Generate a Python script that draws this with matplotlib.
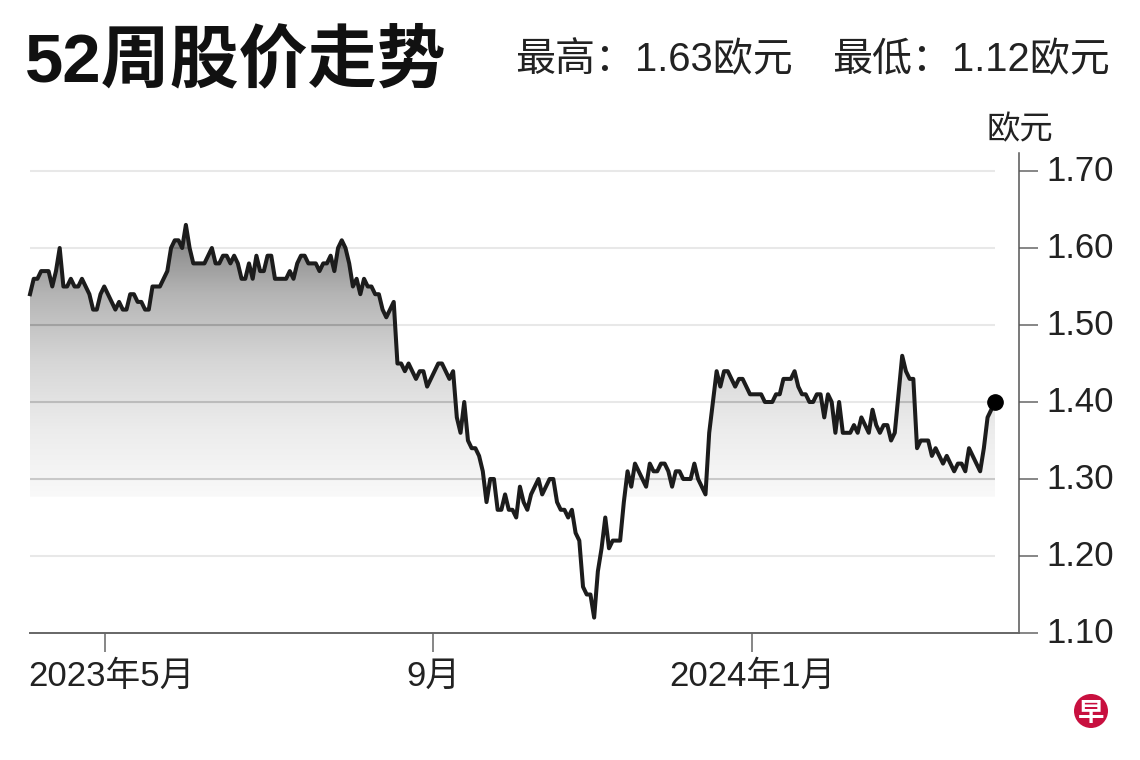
import matplotlib
matplotlib.use("Agg")
import matplotlib.pyplot as plt
import numpy as np
from matplotlib.colors import LinearSegmentedColormap
from matplotlib.patches import Circle
from matplotlib.transforms import ScaledTranslation

plt.rcParams['font.family'] = ['Liberation Sans', 'Noto Sans CJK SC', 'DejaVu Sans']

# precio de cierre por sesion
precios = [
    1.54, 1.56, 1.56, 1.57, 1.57, 1.57, 1.55, 1.57, 1.60, 1.55,
    1.55, 1.56, 1.55, 1.55, 1.56, 1.55, 1.54, 1.52, 1.52, 1.54,
    1.55, 1.54, 1.53, 1.52, 1.53, 1.52, 1.52, 1.54, 1.54, 1.53,
    1.53, 1.52, 1.52, 1.55, 1.55, 1.55, 1.56, 1.57, 1.60, 1.61,
    1.61, 1.60, 1.63, 1.60, 1.58, 1.58, 1.58, 1.58, 1.59, 1.60,
    1.58, 1.58, 1.59, 1.59, 1.58, 1.59, 1.58, 1.56, 1.56, 1.58,
    1.56, 1.59, 1.57, 1.57, 1.59, 1.59, 1.56, 1.56, 1.56, 1.56,
    1.57, 1.56, 1.58, 1.59, 1.59, 1.58, 1.58, 1.58, 1.57, 1.58,
    1.58, 1.59, 1.57, 1.60, 1.61, 1.60, 1.58, 1.55, 1.56, 1.54,
    1.56, 1.55, 1.55, 1.54, 1.54, 1.52, 1.51, 1.52, 1.53, 1.45,
    1.45, 1.44, 1.45, 1.44, 1.43, 1.44, 1.44, 1.42, 1.43, 1.44,
    1.45, 1.45, 1.44, 1.43, 1.44, 1.38, 1.36, 1.40, 1.35, 1.34,
    1.34, 1.33, 1.31, 1.27, 1.30, 1.30, 1.26, 1.26, 1.28, 1.26,
    1.26, 1.25, 1.29, 1.27, 1.26, 1.28, 1.29, 1.30, 1.28, 1.29,
    1.30, 1.30, 1.27, 1.26, 1.26, 1.25, 1.26, 1.23, 1.22, 1.16,
    1.15, 1.15, 1.12, 1.18, 1.21, 1.25, 1.21, 1.22, 1.22, 1.22,
    1.27, 1.31, 1.29, 1.32, 1.31, 1.30, 1.29, 1.32, 1.31, 1.31,
    1.32, 1.32, 1.31, 1.29, 1.31, 1.31, 1.30, 1.30, 1.30, 1.32,
    1.30, 1.29, 1.28, 1.36, 1.40, 1.44, 1.42, 1.44, 1.44, 1.43,
    1.42, 1.43, 1.43, 1.42, 1.41, 1.41, 1.41, 1.41, 1.40, 1.40,
    1.40, 1.41, 1.41, 1.43, 1.43, 1.43, 1.44, 1.42, 1.41, 1.41,
    1.40, 1.40, 1.41, 1.41, 1.38, 1.41, 1.40, 1.36, 1.40, 1.36,
    1.36, 1.36, 1.37, 1.36, 1.38, 1.37, 1.36, 1.39, 1.37, 1.36,
    1.37, 1.37, 1.35, 1.36, 1.41, 1.46, 1.44, 1.43, 1.43, 1.34,
    1.35, 1.35, 1.35, 1.33, 1.34, 1.33, 1.32, 1.33, 1.32, 1.31,
    1.32, 1.32, 1.31, 1.34, 1.33, 1.32, 1.31, 1.34, 1.38, 1.39,
    1.40,
]
sesiones = np.arange(len(precios))

# ticks: sesion donde empieza cada mes
ticks_x = [20.2, 108.6, 194.6]
etiquetas_x = ['2023年5月', '9月', '2024年1月']
ticks_y = [1.10, 1.20, 1.30, 1.40, 1.50, 1.60, 1.70]

NEGRO = '#1c1c1c'
BASE = 1.277  # donde termina el degradado
TOPE_Y = 1.70 + 18 / 770  # el eje vertical sube un poco mas que 1.70

fig = plt.figure(figsize=(11.4, 7.6), dpi=100, facecolor='white')
ax = fig.add_axes([30 / 1140, 1 - 633 / 760, 989 / 1140, 480 / 760])

# degradado gris recortado por debajo de la linea
gris = LinearSegmentedColormap.from_list('gris', ['#f9f9f9', '#ececec', '#d6d6d6', '#b4b4b4', '#7e7e7e'])
grad = np.linspace(0, 1, 256).reshape(-1, 1)
img = ax.imshow(grad, cmap=gris, origin='lower', aspect='auto', zorder=1,
                extent=(0, sesiones[-1], BASE, max(precios)))
zona = ax.fill_between(sesiones, BASE, np.maximum(precios, BASE), color='none', linewidth=0)
recorte = zona.get_paths()[0]
img.set_clip_path(recorte, transform=ax.transData)
ax.set_xlim(0, 989 / 3.7115)
ax.set_ylim(1.10, TOPE_Y)

# lineas de la grilla, mas oscuras dentro del area gris
ax.hlines(ticks_y[1:], 0, sesiones[-1], color='black', alpha=0.09, linewidth=1.5, zorder=2)
dentro = ax.hlines(ticks_y[1:], 0, sesiones[-1], color='black', alpha=0.09, linewidth=1.5, zorder=2)
dentro.set_clip_path(recorte, transform=ax.transData)

ax.plot(sesiones, precios, color=NEGRO, linewidth=2.9, solid_joinstyle='round', zorder=3, clip_on=False)
ax.plot(sesiones[-1], precios[-1], 'o', color='black', markersize=11, zorder=4, clip_on=False)

for lado in ['top', 'left']:
    ax.spines[lado].set_visible(False)
ax.spines['right'].set_color('#555555')
ax.spines['right'].set_linewidth(1.1)
ax.spines['bottom'].set_color('#666666')
ax.spines['bottom'].set_linewidth(1.4)

ax.yaxis.tick_right()
ax.set_yticks(ticks_y)
ax.set_yticklabels([f'{v:.2f}' for v in ticks_y])
ax.tick_params(axis='y', length=13.7, width=1.1, color='#666666', pad=6, labelsize=25, labelcolor='#222222')
ax.set_xticks(ticks_x)
ax.set_xticklabels(etiquetas_x)
ax.tick_params(axis='x', length=14, width=1.1, color='#666666', pad=5, labelsize=25, labelcolor='#222222')

# la primera etiqueta va un poco a la derecha de su tick
primera = ax.get_xticklabels()[0]
primera.set_transform(primera.get_transform() + ScaledTranslation(4.5 / 72, 0, fig.dpi_scale_trans))

# etiquetas del eje y un poco mas arriba
for etiqueta in ax.get_yticklabels():
    etiqueta.set_transform(etiqueta.get_transform() + ScaledTranslation(0, 2.2 / 72, fig.dpi_scale_trans))

# capa de textos en pixeles de la figura
capa = fig.add_axes([0, 0, 1, 1], facecolor='none')
capa.set_xlim(0, 1140)
capa.set_ylim(760, 0)
capa.axis('off')

capa.text(25, 62, '52周股价走势', fontsize=49.7, fontweight='bold', color='#111111', ha='left', va='center')
capa.text(793, 60, '最高：1.63欧元', fontsize=28.8, color='#222222', ha='right', va='center')
capa.text(1110, 60, '最低：1.12欧元', fontsize=28.8, color='#222222', ha='right', va='center')
capa.text(1020, 131, '欧元', fontsize=24, color='#222222', ha='center', va='center')

# logo
capa.add_patch(Circle((1091, 711), 17, color='#c8103f', linewidth=0))
capa.text(1091, 714, '早', fontsize=19, fontweight='bold', color='white', ha='center', va='center')

fig.savefig('out.png', dpi=100)
